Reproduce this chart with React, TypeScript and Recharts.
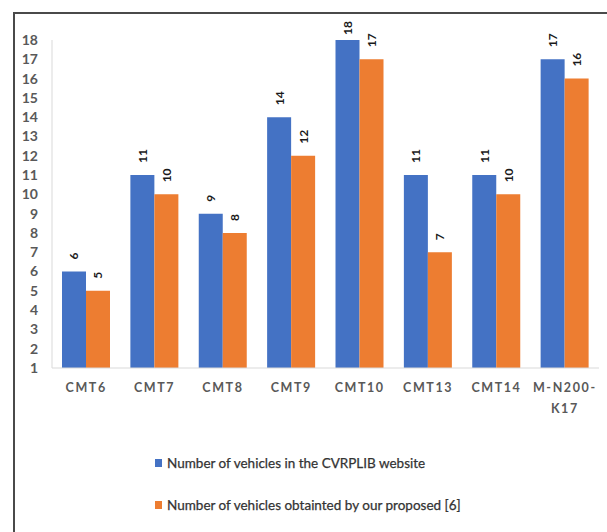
import React from "react";
import { BarChart, Bar, XAxis, YAxis, LabelList } from "recharts";

const CATEGORIES = ["CMT6", "CMT7", "CMT8", "CMT9", "CMT10", "CMT13", "CMT14", "M-N200-K17"];
const CVRPLIB_VEHICLES = [6, 11, 9, 14, 18, 11, 11, 17];
const PROPOSED_VEHICLES = [5, 10, 8, 12, 17, 7, 10, 16];
const Y_TICKS = [1, 2, 3, 4, 5, 6, 7, 8, 9, 10, 11, 12, 13, 14, 15, 16, 17, 18];
const SERIES_NAMES = [
  "Number of vehicles in the CVRPLIB website",
  "Number of vehicles obtainted by our proposed [6]",
];

const BLUE = "#4472C4";
const ORANGE = "#ED7D31";
const FONT = "Lato, 'Open Sans', sans-serif";

const data = CATEGORIES.map((name, i) => ({
  name,
  cvrplib: CVRPLIB_VEHICLES[i],
  proposed: PROPOSED_VEHICLES[i],
}));

// long names like M-N200-K17 wrap after the last hyphen
function CategoryTick(props: any) {
  const { x, y, payload } = props;
  const label: string = payload.value;
  const m = label.length > 6 ? label.match(/^(.*-)(.+)$/) : null;
  const lines = m ? [m[1], m[2]] : [label];
  return (
    <g transform={`translate(${x},${y})`}>
      {lines.map((line, i) => (
        <text
          key={i}
          x={0}
          y={i * 21}
          dy={16}
          textAnchor="middle"
          fill="#595959"
          fontFamily={FONT}
          fontWeight={700}
          fontSize={12.5}
          letterSpacing={1.6}
        >
          {line}
        </text>
      ))}
    </g>
  );
}

// value labels stand upright above each bar, reading bottom to top;
// the tallest ones get pushed down so they stay inside the frame
function renderValue(props: any) {
  const { x, y, width, value } = props;
  const cx = Number(x) + Number(width) / 2;
  const textLen = String(value).length * 7;
  const cy = Math.max(Number(y) - 12, 21 + textLen);
  return (
    <text
      x={cx}
      y={cy}
      transform={`rotate(-90, ${cx}, ${cy})`}
      textAnchor="start"
      dominantBaseline="central"
      fill="#1a1a1a"
      fontFamily={FONT}
      fontWeight={700}
      fontSize={12}
    >
      {value}
    </text>
  );
}

export default function App() {
  return (
    <div
      style={{
        position: "fixed",
        inset: 0,
        overflow: "hidden",
        background: "#fff",
      }}
    >
      <div
        style={{
          position: "absolute",
          left: 13,
          top: 12,
          width: 640,
          height: 560,
          border: "2px solid #4a4a4a",
          boxSizing: "border-box",
        }}
      />
      <div style={{ position: "absolute", left: 0, top: 0 }}>
        <BarChart
          width={607}
          height={430}
          data={data}
          margin={{ top: 40, right: 8, left: 0, bottom: 0 }}
          barGap={0}
        >
          <XAxis
            dataKey="name"
            interval={0}
            height={62}
            tickLine={false}
            axisLine={{ stroke: "#d9d9d9" }}
            tick={<CategoryTick />}
          />
          <YAxis
            type="number"
            domain={[1, 18]}
            ticks={Y_TICKS}
            interval={0}
            allowDataOverflow
            width={52}
            tickLine={false}
            tickMargin={8}
            axisLine={{ stroke: "#d9d9d9" }}
            tick={{ fill: "#595959", fontSize: 14, fontWeight: 700, fontFamily: FONT }}
          />
          <Bar dataKey="cvrplib" name={SERIES_NAMES[0]} fill={BLUE} barSize={24} isAnimationActive={false}>
            <LabelList dataKey="cvrplib" content={renderValue} />
          </Bar>
          <Bar dataKey="proposed" name={SERIES_NAMES[1]} fill={ORANGE} barSize={24} isAnimationActive={false}>
            <LabelList dataKey="proposed" content={renderValue} />
          </Bar>
        </BarChart>
      </div>
      {/* legend */}
      <div
        style={{
          position: "absolute",
          left: 155,
          top: 453,
          fontFamily: FONT,
          fontSize: 13.5,
          color: "#333",
          WebkitTextStroke: "0.25px #333",
        }}
      >
        {SERIES_NAMES.map((n, i) => (
          <div key={n} style={{ display: "flex", alignItems: "center", height: 20, marginBottom: 22 }}>
            <span
              style={{
                display: "inline-block",
                width: 7,
                height: 8,
                background: i === 0 ? BLUE : ORANGE,
                marginRight: 5,
              }}
            />
            <span>{n}</span>
          </div>
        ))}
      </div>
    </div>
  );
}
